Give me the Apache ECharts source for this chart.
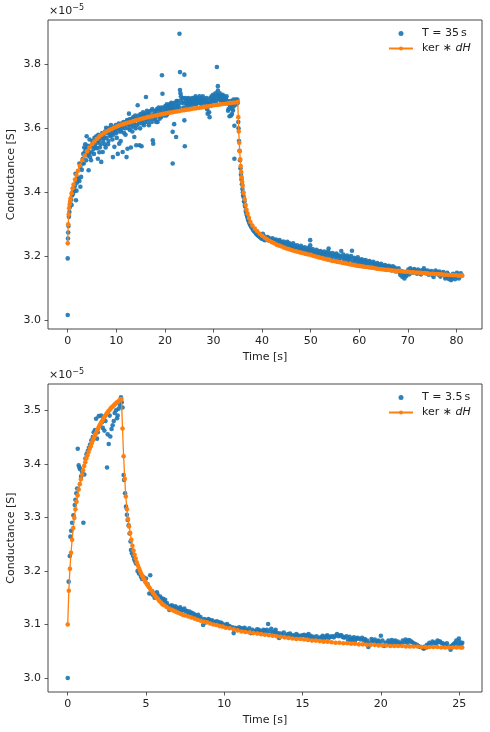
<!DOCTYPE html>
<html>
<head>
<meta charset="utf-8">
<script src="https://cdn.jsdelivr.net/npm/echarts@6/dist/echarts.min.js"></script>
<style>
  html, body { margin: 0; padding: 0; background: #fff; }
  #chart { width: 490px; height: 732px; }
</style>
</head>
<body>
<div id="chart"></div>
<script>
// conductance values are in units of 1e-5 S (offset text "×10^-5")

// ---- top panel: T = 35 s ----
const topMeasuredRise = [
  [0, 3.016], [0, 3.193], [0.05, 3.255], [0.1, 3.274], [0.15, 3.294], [0.25, 3.323], [0.35, 3.338], [0.45, 3.354],
  [0.55, 3.365], [0.7, 3.377], [0.8, 3.36], [0.9, 3.39], [1.0, 3.40], [1.1, 3.395], [1.2, 3.41], [1.4, 3.404],
  [1.5, 3.42], [1.6, 3.458], [1.7, 3.375], [1.8, 3.405], [1.9, 3.43], [2.0, 3.445], [2.2, 3.44], [2.4, 3.49],
  [2.4, 3.435], [2.6, 3.48], [2.6, 3.417], [2.75, 3.448], [2.9, 3.47], [3.0, 3.49],
  [3.2, 3.52], [3.4, 3.54], [3.6, 3.55], [3.8, 3.50], [3.9, 3.575], [4.0, 3.515], [4.2, 3.53], [4.3, 3.469],
  [4.5, 3.565], [4.6, 3.51], [4.8, 3.50], [5.0, 3.545], [5.2, 3.555], [5.4, 3.52], [5.6, 3.548], [5.8, 3.5625],
  [6.0, 3.538], [6.2, 3.505], [6.4, 3.56], [6.6, 3.54], [6.9, 3.495], [7.0, 3.572], [7.2, 3.526], [7.4, 3.58],
  [7.6, 3.55], [7.9, 3.602], [8.0, 3.57], [8.2, 3.585], [8.4, 3.56], [8.6, 3.59], [8.8, 3.575], [9.0, 3.6],
  [9.3, 3.51], [9.4, 3.58], [9.6, 3.542], [9.8, 3.595], [10.0, 3.585], [10.3, 3.52], [10.4, 3.6], [10.6, 3.552],
  [10.8, 3.605], [11.0, 3.59], [11.3, 3.526], [11.4, 3.61], [11.6, 3.585], [11.8, 3.6], [12.0, 3.615], [12.1, 3.51],
  [12.3, 3.625], [12.3, 3.536], [12.5, 3.6], [12.6, 3.646], [12.8, 3.595], [13.0, 3.54], [13.1, 3.62], [13.4, 3.605],
  [13.7, 3.573], [13.8, 3.63], [14.1, 3.547], [14.2, 3.61], [14.4, 3.672], [14.5, 3.625], [14.8, 3.547], [14.9, 3.6],
  [15.1, 3.635], [15.2, 3.544], [15.4, 3.615], [15.6, 3.64], [15.9, 3.62], [16.1, 3.698], [16.2, 3.63], [16.4, 3.645],
  [16.7, 3.61], [17.0, 3.64], [17.3, 3.62], [17.5, 3.5625], [17.6, 3.552], [17.8, 3.645], [18.0, 3.63], [18.3, 3.655],
  [18.5, 3.62], [18.8, 3.645], [19.0, 3.66], [19.2, 3.635], [19.4, 3.766], [19.5, 3.708], [19.7, 3.65], [20.0, 3.66],
  [20.3, 3.64], [20.6, 3.665], [20.9, 3.65], [21.2, 3.67], [21.6, 3.589], [21.6, 3.49], [21.8, 3.66], [21.9, 3.613],
  [22.1, 3.672], [22.3, 3.573], [22.5, 3.66], [22.8, 3.675], [23.0, 3.896], [23.1, 3.776], [23.1, 3.72], [23.2, 3.71],
  [23.3, 3.70], [23.4, 3.69], [23.5, 3.68], [23.8, 3.665], [24.0, 3.768], [24.0, 3.625], [24.1, 3.544], [24.3, 3.685],
  [24.6, 3.67], [24.9, 3.688], [25.2, 3.675], [25.5, 3.69], [25.8, 3.68], [26.1, 3.695], [26.4, 3.675], [26.7, 3.685],
  [27.0, 3.69], [27.3, 3.68], [27.6, 3.695], [27.9, 3.685], [28.2, 3.67], [28.5, 3.69], [28.8, 3.646], [29.0, 3.68],
  [29.2, 3.635], [29.4, 3.695], [29.7, 3.685], [30.0, 3.69], [30.3, 3.70], [30.5, 3.68], [30.7, 3.792], [30.9, 3.732],
  [30.9, 3.718], [31.2, 3.703], [31.4, 3.69], [31.7, 3.70], [32.0, 3.685], [32.3, 3.695], [32.6, 3.69], [32.9, 3.68],
  [33.0, 3.655], [33.3, 3.638], [33.5, 3.685], [33.8, 3.645], [34.0, 3.656], [34.1, 3.69], [34.3, 3.608], [34.3, 3.505],
  [34.5, 3.68], [34.8, 3.685], [35.0, 3.68],
  [3.1, 3.505], [3.3, 3.49], [3.5, 3.525], [3.7, 3.535], [4.1, 3.545], [4.4, 3.52], [4.7, 3.545], [4.9, 3.525],
  [5.1, 3.56], [5.3, 3.535], [5.5, 3.57], [5.7, 3.54], [5.9, 3.575], [6.1, 3.555], [6.3, 3.58], [6.5, 3.525],
  [6.7, 3.57], [6.8, 3.55], [7.1, 3.585], [7.3, 3.56], [7.5, 3.57], [7.7, 3.59], [7.8, 3.54], [8.1, 3.595],
  [8.3, 3.55], [8.5, 3.60], [8.7, 3.58], [8.9, 3.61], [9.1, 3.585], [9.2, 3.565], [9.5, 3.605], [9.7, 3.59],
  [9.9, 3.61], [10.1, 3.57], [10.2, 3.60], [10.5, 3.615], [10.7, 3.59], [10.9, 3.56], [11.1, 3.615], [11.2, 3.60],
  [11.5, 3.62], [11.7, 3.61], [11.9, 3.58], [12.2, 3.625], [12.4, 3.612], [12.7, 3.628], [12.9, 3.61], [13.2, 3.63],
  [13.3, 3.59], [13.5, 3.635], [13.6, 3.615], [13.9, 3.64], [14.0, 3.60], [14.3, 3.63], [14.6, 3.64], [14.7, 3.615],
  [15.0, 3.645], [15.3, 3.625], [15.5, 3.65], [15.7, 3.61], [15.8, 3.645], [16.0, 3.635], [16.3, 3.655], [16.5, 3.62],
  [16.6, 3.65], [16.9, 3.63], [17.1, 3.655], [17.2, 3.64], [17.4, 3.66], [17.7, 3.63], [17.9, 3.655], [18.1, 3.645],
  [18.2, 3.62], [18.4, 3.66], [18.6, 3.64], [18.7, 3.665], [18.9, 3.63], [19.1, 3.655], [19.3, 3.665], [19.6, 3.645],
  [19.8, 3.665], [19.9, 3.64], [20.1, 3.67], [20.2, 3.655], [20.4, 3.675], [20.5, 3.645], [20.7, 3.67], [20.8, 3.66],
  [21.0, 3.675], [21.1, 3.66], [21.3, 3.68], [21.4, 3.655], [21.5, 3.675], [21.7, 3.665], [22.0, 3.68], [22.2, 3.66],
  [22.4, 3.685], [22.6, 3.67], [22.7, 3.685], [22.9, 3.665],
  [23.7, 3.695], [23.9, 3.68], [24.2, 3.695], [24.4, 3.675], [24.5, 3.69], [24.7, 3.68], [24.8, 3.695], [25.0, 3.68],
  [25.1, 3.692], [25.3, 3.685], [25.4, 3.67], [25.6, 3.695], [25.7, 3.685], [25.9, 3.69], [26.0, 3.675], [26.2, 3.685],
  [26.3, 3.70], [26.5, 3.69], [26.6, 3.68], [26.8, 3.695], [26.9, 3.68], [27.1, 3.70], [27.2, 3.685], [27.4, 3.69],
  [27.5, 3.675], [27.7, 3.685], [27.8, 3.70], [28.0, 3.68], [28.1, 3.692], [28.3, 3.685], [28.4, 3.675], [28.6, 3.695],
  [28.7, 3.66], [28.9, 3.68], [29.1, 3.65], [29.3, 3.69], [29.5, 3.675], [29.6, 3.70], [29.8, 3.69], [29.9, 3.705],
  [30.1, 3.685], [30.2, 3.695], [30.4, 3.71], [30.6, 3.69], [30.8, 3.705], [31.0, 3.70], [31.1, 3.69], [31.3, 3.71],
  [31.5, 3.70], [31.6, 3.685], [31.8, 3.695], [31.9, 3.705], [32.1, 3.69], [32.2, 3.70], [32.4, 3.685], [32.5, 3.695],
  [32.7, 3.70], [32.8, 3.685], [33.1, 3.66], [33.2, 3.675], [33.4, 3.665], [33.6, 3.64], [33.7, 3.67], [33.9, 3.66],
  [34.2, 3.67], [34.4, 3.685], [34.6, 3.69], [34.7, 3.675], [34.9, 3.69]
];

const topMeasuredFall = [
  [35.1, 3.62], [35.15, 3.60], [35.25, 3.56], [35.35, 3.53], [35.45, 3.50], [35.55, 3.475], [35.65, 3.455], [35.75, 3.44],
  [35.85, 3.425], [35.95, 3.41], [36.05, 3.40], [36.2, 3.385], [36.35, 3.37], [36.5, 3.355], [36.65, 3.342], [36.8, 3.332],
  [37.0, 3.322], [37.2, 3.312], [37.4, 3.305], [37.6, 3.297], [37.9, 3.29], [38.2, 3.282], [38.5, 3.277], [38.8, 3.27],
  [39.1, 3.266], [39.4, 3.262], [39.7, 3.258], [40.0, 3.255], [40.3, 3.252], [40.6, 3.25], [41.0, 3.255], [41.3, 3.25],
  [41.6, 3.248], [42.0, 3.245], [42.3, 3.248], [42.7, 3.243], [43.0, 3.24], [43.4, 3.244], [43.8, 3.236], [44.2, 3.238],
  [44.6, 3.232], [45.0, 3.235], [45.4, 3.228], [45.8, 3.232], [46.2, 3.225], [46.6, 3.228], [47.0, 3.222], [47.4, 3.225],
  [47.8, 3.218], [48.2, 3.222], [48.6, 3.215], [49.0, 3.22], [49.4, 3.212], [49.8, 3.216], [49.9, 3.25], [49.9, 3.234],
  [50.2, 3.21], [50.6, 3.214], [51.0, 3.206], [51.4, 3.21], [51.8, 3.204], [52.2, 3.208], [52.6, 3.20], [53.0, 3.206],
  [53.4, 3.198], [53.7, 3.224], [53.9, 3.204], [54.3, 3.197], [54.7, 3.202], [55.1, 3.194], [55.5, 3.20], [55.9, 3.19],
  [56.3, 3.216], [56.5, 3.196], [56.9, 3.188], [57.3, 3.194], [57.7, 3.186], [58.1, 3.19], [58.5, 3.217], [58.7, 3.183],
  [59.1, 3.188], [59.5, 3.18], [59.9, 3.185], [60.3, 3.176], [60.7, 3.182], [61.1, 3.174], [61.5, 3.178], [61.9, 3.17],
  [62.3, 3.176], [62.7, 3.168], [63.1, 3.172], [63.5, 3.166], [63.9, 3.17], [64.3, 3.162], [64.7, 3.167], [65.1, 3.16],
  [65.5, 3.164], [65.9, 3.158], [66.3, 3.162], [66.7, 3.155], [67.1, 3.158], [67.5, 3.152], [67.9, 3.156], [68.3, 3.148],
  [68.7, 3.153], [69.1, 3.144], [69.5, 3.14], [69.9, 3.15], [70.3, 3.143], [70.7, 3.155], [71.1, 3.148], [71.5, 3.152],
  [71.9, 3.145], [72.3, 3.15], [72.7, 3.143], [73.1, 3.148], [73.5, 3.155], [73.9, 3.146], [74.3, 3.142], [74.7, 3.148],
  [75.1, 3.14], [75.5, 3.145], [75.9, 3.15], [76.3, 3.142], [76.7, 3.136], [77.1, 3.145], [77.5, 3.14], [77.9, 3.133],
  [78.3, 3.143], [78.5, 3.128], [78.7, 3.138], [79.1, 3.13], [79.5, 3.14], [79.9, 3.135], [80.3, 3.142], [80.7, 3.136],
  [81.1, 3.14],
  [36.1, 3.39], [36.3, 3.372], [36.45, 3.36], [36.7, 3.338], [36.9, 3.327], [37.1, 3.315], [37.3, 3.307], [37.5, 3.30],
  [37.75, 3.292], [38.05, 3.285], [38.35, 3.278], [38.65, 3.273], [38.95, 3.268], [39.25, 3.263], [39.55, 3.26], [39.85, 3.255],
  [40.15, 3.27], [40.45, 3.262], [40.8, 3.258], [41.15, 3.26], [41.45, 3.256], [41.8, 3.252], [42.15, 3.256], [42.5, 3.25],
  [42.85, 3.252], [43.2, 3.248], [43.6, 3.25], [44.0, 3.244], [44.4, 3.246], [44.8, 3.242], [45.2, 3.245], [45.6, 3.24],
  [46.0, 3.236], [46.4, 3.24], [46.8, 3.232], [47.2, 3.234], [47.6, 3.228], [48.0, 3.232], [48.4, 3.226], [48.8, 3.228],
  [49.2, 3.222], [49.6, 3.226], [50.0, 3.22], [50.4, 3.222], [50.8, 3.216], [51.2, 3.22], [51.6, 3.214], [52.0, 3.216],
  [52.4, 3.212], [52.8, 3.214], [53.2, 3.21], [53.6, 3.215], [54.0, 3.208], [54.5, 3.21], [54.9, 3.205], [55.3, 3.208],
  [55.7, 3.203], [56.1, 3.20], [56.7, 3.205], [57.1, 3.198], [57.5, 3.202], [57.9, 3.196], [58.3, 3.20], [58.9, 3.195],
  [59.3, 3.192], [59.7, 3.196], [60.1, 3.188], [60.5, 3.19], [60.9, 3.186], [61.3, 3.188], [61.7, 3.182], [62.1, 3.185],
  [62.5, 3.18], [62.9, 3.182], [63.3, 3.176], [63.7, 3.178], [64.1, 3.174], [64.5, 3.176], [64.9, 3.17], [65.3, 3.172],
  [65.7, 3.168], [66.1, 3.17], [66.5, 3.166], [66.9, 3.168], [67.3, 3.164], [67.7, 3.16], [68.1, 3.162], [68.5, 3.14],
  [68.9, 3.135], [69.3, 3.13], [69.7, 3.138], [70.1, 3.158], [70.5, 3.162], [70.9, 3.156], [71.3, 3.16], [71.7, 3.155],
  [72.1, 3.158], [72.5, 3.152], [72.9, 3.156], [73.3, 3.162], [73.7, 3.152], [74.1, 3.155], [74.5, 3.15], [74.9, 3.153],
  [75.3, 3.135], [75.7, 3.155], [76.1, 3.148], [76.5, 3.152], [76.9, 3.145], [77.3, 3.15], [77.7, 3.13], [78.1, 3.148],
  [78.9, 3.125], [79.3, 3.145], [79.7, 3.128], [80.1, 3.148], [80.5, 3.13], [80.9, 3.146]
];

const topKernel = [
  [0, 3.24], [0.1, 3.30], [0.2, 3.33], [0.3, 3.35], [0.4, 3.362], [0.5, 3.372], [0.6, 3.381], [0.8, 3.397],
  [1.0, 3.412], [1.2, 3.424], [1.5, 3.44], [1.8, 3.454], [2.1, 3.467], [2.5, 3.483], [3.0, 3.50], [3.5, 3.515],
  [4.0, 3.528], [4.5, 3.54], [5.0, 3.55], [5.5, 3.559], [6.0, 3.567], [6.5, 3.574], [7.0, 3.58], [7.5, 3.585],
  [8.0, 3.59], [8.5, 3.594], [9.0, 3.598], [9.5, 3.602], [10.0, 3.605], [10.5, 3.608], [11.0, 3.611], [11.5, 3.613],
  [12.0, 3.616], [12.5, 3.618], [13.0, 3.62], [13.5, 3.623], [14.0, 3.625], [14.5, 3.627], [15.0, 3.629], [15.5, 3.631],
  [16.0, 3.633], [16.5, 3.635], [17.0, 3.637], [17.5, 3.638], [18.0, 3.64], [18.5, 3.641], [19.0, 3.643], [19.5, 3.645],
  [20.0, 3.646], [20.5, 3.648], [21.0, 3.649], [21.5, 3.65], [22.0, 3.652], [22.5, 3.653], [23.0, 3.654], [23.5, 3.656],
  [24.0, 3.657], [24.5, 3.658], [25.0, 3.659], [25.5, 3.661], [26.0, 3.662], [26.5, 3.663], [27.0, 3.664], [27.5, 3.665],
  [28.0, 3.667], [28.5, 3.668], [29.0, 3.669], [29.5, 3.67], [30.0, 3.672], [30.5, 3.673], [31.0, 3.674], [31.5, 3.675],
  [32.0, 3.676], [32.5, 3.677], [33.0, 3.678], [33.5, 3.679], [34.0, 3.68], [34.5, 3.681], [35.0, 3.683],
  [35.1, 3.635], [35.2, 3.59], [35.3, 3.555], [35.4, 3.528], [35.5, 3.503], [35.6, 3.482], [35.7, 3.463], [35.8, 3.447],
  [35.9, 3.433], [36.0, 3.42], [36.2, 3.398], [36.4, 3.378], [36.6, 3.36], [36.8, 3.345], [37.0, 3.333], [37.3, 3.319],
  [37.6, 3.307], [38.0, 3.296], [38.5, 3.286], [39.0, 3.278], [39.5, 3.27], [40.0, 3.264], [40.5, 3.258], [41.0, 3.253],
  [41.5, 3.248], [42.0, 3.244], [42.5, 3.24], [43.0, 3.236], [43.5, 3.233], [44.0, 3.23], [44.5, 3.227], [45.0, 3.224],
  [45.5, 3.222], [46.0, 3.219], [46.5, 3.217], [47.0, 3.215], [47.5, 3.213], [48.0, 3.211], [48.5, 3.209], [49.0, 3.207],
  [49.5, 3.205], [50.0, 3.204], [50.5, 3.201], [51.0, 3.199], [51.5, 3.197], [52.0, 3.195], [52.5, 3.193], [53.0, 3.191],
  [53.5, 3.189], [54.0, 3.187], [54.5, 3.185], [55.0, 3.184], [55.5, 3.182], [56.0, 3.181], [56.5, 3.179], [57.0, 3.178],
  [57.5, 3.176], [58.0, 3.175], [58.5, 3.173], [59.0, 3.172], [59.5, 3.17], [60.0, 3.169], [60.5, 3.168], [61.0, 3.167],
  [61.5, 3.166], [62.0, 3.165], [62.5, 3.164], [63.0, 3.163], [63.5, 3.161], [64.0, 3.16], [64.5, 3.159], [65.0, 3.158],
  [65.5, 3.157], [66.0, 3.157], [66.5, 3.156], [67.0, 3.155], [67.5, 3.154], [68.0, 3.154], [68.5, 3.153], [69.0, 3.152],
  [69.5, 3.151], [70.0, 3.151], [70.5, 3.15], [71.0, 3.15], [71.5, 3.149], [72.0, 3.149], [72.5, 3.148], [73.0, 3.147],
  [73.5, 3.147], [74.0, 3.146], [74.5, 3.145], [75.0, 3.145], [75.5, 3.144], [76.0, 3.144], [76.5, 3.143], [77.0, 3.143],
  [77.5, 3.142], [78.0, 3.142], [78.5, 3.141], [79.0, 3.141], [79.5, 3.14], [80.0, 3.14], [80.5, 3.139], [81.0, 3.139],
  [81.2, 3.139]
];

// ---- bottom panel: T = 3.5 s ----
const bottomMeasuredRise = [
  [0, 3.0], [0.06, 3.18], [0.13, 3.228], [0.17, 3.264], [0.22, 3.275], [0.28, 3.29], [0.36, 3.304], [0.45, 3.323],
  [0.49, 3.333], [0.55, 3.345], [0.6, 3.354], [0.64, 3.428], [0.7, 3.397], [0.75, 3.393], [0.79, 3.39], [0.85, 3.376],
  [0.92, 3.385], [1.0, 3.29], [1.06, 3.38], [1.13, 3.41], [1.2, 3.418], [1.28, 3.424], [1.35, 3.43], [1.43, 3.436],
  [1.51, 3.444], [1.6, 3.45], [1.66, 3.459], [1.74, 3.463], [1.81, 3.484], [1.87, 3.447], [1.92, 3.459], [1.98, 3.489],
  [2.06, 3.472], [2.13, 3.49], [2.2, 3.478], [2.24, 3.467], [2.3, 3.485], [2.34, 3.462], [2.41, 3.48], [2.51, 3.393],
  [2.55, 3.455], [2.62, 3.437], [2.68, 3.49], [2.72, 3.451], [2.8, 3.465], [2.87, 3.472], [2.94, 3.48], [3.0, 3.495],
  [3.09, 3.50], [3.15, 3.485], [3.19, 3.49], [3.25, 3.503], [3.34, 3.51], [3.4, 3.524], [3.45, 3.515], [3.5, 3.505]
];

const bottomMeasuredFall = [
  [3.57, 3.379], [3.6, 3.37], [3.66, 3.345], [3.72, 3.32], [3.78, 3.305], [3.83, 3.295], [3.89, 3.285], [3.95, 3.27],
  [4.01, 3.255], [4.04, 3.239], [4.1, 3.233], [4.18, 3.228], [4.25, 3.222], [4.3, 3.218], [4.36, 3.214], [4.46, 3.20],
  [4.55, 3.195], [4.62, 3.197], [4.68, 3.189], [4.75, 3.185], [4.85, 3.188], [5.0, 3.186], [5.1, 3.175], [5.21, 3.158],
  [5.27, 3.192], [5.35, 3.158], [5.45, 3.155], [5.55, 3.15], [5.64, 3.152], [5.75, 3.155], [5.85, 3.15], [5.96, 3.149],
  [6.05, 3.145], [6.17, 3.143], [6.28, 3.138], [6.38, 3.134], [6.49, 3.127], [6.6, 3.13], [6.7, 3.133], [6.82, 3.128],
  [6.95, 3.131], [7.05, 3.126], [7.12, 3.13], [7.25, 3.124], [7.38, 3.127], [7.55, 3.124], [7.7, 3.12], [7.85, 3.121],
  [7.98, 3.118], [8.1, 3.116], [8.25, 3.114], [8.4, 3.112], [8.55, 3.109], [8.65, 3.099], [8.8, 3.104], [8.92, 3.107],
  [9.04, 3.109], [9.15, 3.106], [9.3, 3.104], [9.46, 3.104], [9.6, 3.101], [9.75, 3.102], [9.9, 3.099], [10.1, 3.099],
  [10.25, 3.097], [10.4, 3.094], [10.6, 3.084], [10.75, 3.092], [10.95, 3.095], [11.1, 3.093], [11.3, 3.094], [11.5, 3.088],
  [11.7, 3.084], [11.8, 3.09], [12.0, 3.088], [12.2, 3.09], [12.4, 3.087], [12.5, 3.09], [12.65, 3.085], [12.8, 3.101],
  [13.0, 3.092], [13.2, 3.087], [13.35, 3.082], [13.5, 3.075], [13.7, 3.08], [13.9, 3.078], [14.1, 3.082], [14.3, 3.079],
  [14.5, 3.078], [14.7, 3.08], [14.9, 3.079], [15.1, 3.081], [15.3, 3.08], [15.45, 3.077], [15.6, 3.075], [15.8, 3.072],
  [16.0, 3.074], [16.2, 3.076], [16.35, 3.073], [16.5, 3.078], [16.65, 3.074], [16.8, 3.077], [17.0, 3.076], [17.2, 3.082],
  [17.4, 3.08], [17.55, 3.077], [17.7, 3.076], [17.9, 3.071], [18.05, 3.073], [18.2, 3.074], [18.35, 3.07], [18.5, 3.075],
  [18.7, 3.072], [18.9, 3.071], [19.05, 3.068], [19.2, 3.058], [19.4, 3.073], [19.55, 3.069], [19.7, 3.067], [19.85, 3.07],
  [20.0, 3.079], [20.2, 3.06], [20.4, 3.066], [20.55, 3.064], [20.7, 3.071], [20.85, 3.068], [21.0, 3.066], [21.15, 3.063],
  [21.3, 3.064], [21.5, 3.067], [21.65, 3.069], [21.8, 3.071], [22.0, 3.067], [22.2, 3.063], [22.4, 3.06], [22.6, 3.058],
  [22.75, 3.055], [22.9, 3.057], [23.0, 3.06], [23.2, 3.063], [23.4, 3.066], [23.55, 3.064], [23.7, 3.068], [23.85, 3.066],
  [24.0, 3.064], [24.15, 3.061], [24.3, 3.059], [24.45, 3.053], [24.6, 3.062], [24.75, 3.066], [24.9, 3.063], [24.98, 3.074],
  [25.1, 3.062], [25.2, 3.066],
  [5.4, 3.162], [5.6, 3.158], [5.7, 3.16], [5.9, 3.152], [6.1, 3.148], [6.22, 3.146], [6.33, 3.14], [6.44, 3.135],
  [6.55, 3.134], [6.65, 3.136], [6.76, 3.132], [6.88, 3.134], [7.0, 3.13], [7.18, 3.132], [7.3, 3.128], [7.45, 3.13],
  [7.62, 3.125], [7.78, 3.124], [7.92, 3.122], [8.05, 3.12], [8.18, 3.117], [8.33, 3.118], [8.48, 3.114], [8.72, 3.11],
  [8.85, 3.108], [8.98, 3.11], [9.1, 3.107], [9.22, 3.108], [9.38, 3.105], [9.53, 3.106], [9.68, 3.104], [9.82, 3.103],
  [9.96, 3.10], [10.18, 3.101], [10.33, 3.097], [10.5, 3.095], [10.68, 3.094], [10.85, 3.092], [11.02, 3.09], [11.2, 3.092],
  [11.4, 3.09], [11.6, 3.093], [11.9, 3.087], [12.1, 3.091], [12.3, 3.088], [12.58, 3.089], [12.72, 3.09], [12.9, 3.087],
  [13.1, 3.085], [13.28, 3.09], [13.42, 3.084], [13.6, 3.083], [13.8, 3.085], [14.0, 3.081], [14.2, 3.083], [14.4, 3.08],
  [14.6, 3.082], [14.8, 3.078], [15.0, 3.08], [15.2, 3.078], [15.38, 3.082], [15.52, 3.079], [15.7, 3.077], [15.9, 3.078],
  [16.1, 3.075], [16.28, 3.079], [16.42, 3.076], [16.58, 3.08], [16.72, 3.077], [16.9, 3.078], [17.1, 3.079], [17.3, 3.078],
  [17.48, 3.08], [17.62, 3.076], [17.8, 3.078], [18.0, 3.077], [18.12, 3.071], [18.28, 3.076], [18.42, 3.073], [18.6, 3.074],
  [18.8, 3.075], [18.98, 3.073], [19.12, 3.07], [19.3, 3.066], [19.48, 3.07], [19.62, 3.072], [19.78, 3.068], [19.92, 3.066],
  [20.1, 3.07], [20.3, 3.066], [20.48, 3.07], [20.62, 3.068], [20.78, 3.065], [20.92, 3.07], [21.08, 3.068], [21.22, 3.066],
  [21.4, 3.07], [21.58, 3.072], [21.72, 3.066], [21.9, 3.069], [22.1, 3.065], [22.3, 3.062], [22.5, 3.058], [22.68, 3.056],
  [22.82, 3.059], [22.95, 3.062], [23.1, 3.066], [23.3, 3.068], [23.48, 3.066], [23.62, 3.07], [23.78, 3.068], [23.92, 3.065],
  [24.08, 3.062], [24.22, 3.065], [24.38, 3.058], [24.52, 3.06], [24.68, 3.064], [24.82, 3.07], [25.02, 3.068], [25.15, 3.064]
];

const bottomKernel = [
  [0, 3.10], [0.07, 3.163], [0.14, 3.204], [0.21, 3.234], [0.28, 3.258], [0.35, 3.28], [0.42, 3.299], [0.49, 3.315],
  [0.56, 3.329], [0.63, 3.341], [0.7, 3.352], [0.77, 3.362], [0.84, 3.371], [0.91, 3.38], [0.98, 3.388], [1.05, 3.396],
  [1.12, 3.403], [1.19, 3.41], [1.26, 3.416], [1.33, 3.422], [1.4, 3.428], [1.47, 3.433], [1.54, 3.439], [1.61, 3.444],
  [1.68, 3.449], [1.75, 3.454], [1.82, 3.458], [1.89, 3.463], [1.96, 3.467], [2.03, 3.471], [2.1, 3.475], [2.17, 3.479],
  [2.24, 3.482], [2.31, 3.486], [2.38, 3.489], [2.45, 3.492], [2.52, 3.495], [2.59, 3.498], [2.66, 3.50], [2.73, 3.503],
  [2.8, 3.505], [2.87, 3.507], [2.94, 3.509], [3.01, 3.511], [3.08, 3.513], [3.15, 3.515], [3.22, 3.516], [3.29, 3.518],
  [3.36, 3.52], [3.43, 3.521], [3.5, 3.466], [3.57, 3.414], [3.64, 3.372], [3.71, 3.339], [3.78, 3.315], [3.85, 3.297],
  [3.92, 3.283], [3.99, 3.271], [4.06, 3.258], [4.13, 3.247], [4.2, 3.238], [4.27, 3.23], [4.34, 3.223], [4.41, 3.216],
  [4.48, 3.21], [4.55, 3.205], [4.62, 3.20], [4.69, 3.195], [4.76, 3.191], [4.83, 3.187], [4.9, 3.183], [4.97, 3.179],
  [5.04, 3.176], [5.11, 3.173], [5.18, 3.17], [5.25, 3.167], [5.35, 3.163], [5.45, 3.159], [5.55, 3.155], [5.65, 3.151],
  [5.75, 3.148], [5.85, 3.144], [5.95, 3.141], [6.05, 3.138], [6.15, 3.136], [6.3, 3.133], [6.45, 3.13], [6.6, 3.128],
  [6.75, 3.126], [6.9, 3.124], [7.05, 3.122], [7.2, 3.12], [7.35, 3.118], [7.5, 3.117], [7.7, 3.115], [7.9, 3.113],
  [8.1, 3.111], [8.3, 3.109], [8.5, 3.107], [8.7, 3.105], [8.9, 3.104], [9.1, 3.102], [9.3, 3.10], [9.5, 3.099],
  [9.7, 3.097], [9.9, 3.096], [10.1, 3.094], [10.35, 3.093], [10.6, 3.091], [10.85, 3.089], [11.1, 3.087], [11.35, 3.086],
  [11.6, 3.085], [11.85, 3.084], [12.1, 3.083], [12.35, 3.082], [12.6, 3.081], [12.85, 3.08], [13.1, 3.079], [13.35, 3.078],
  [13.6, 3.077], [13.85, 3.076], [14.1, 3.075], [14.35, 3.074], [14.6, 3.073], [14.85, 3.073], [15.1, 3.072], [15.35, 3.071],
  [15.6, 3.07], [15.85, 3.07], [16.1, 3.069], [16.35, 3.068], [16.6, 3.068], [16.85, 3.067], [17.1, 3.066], [17.35, 3.066],
  [17.6, 3.065], [17.85, 3.065], [18.1, 3.064], [18.35, 3.064], [18.6, 3.063], [18.85, 3.063], [19.1, 3.062], [19.35, 3.062],
  [19.6, 3.062], [19.85, 3.061], [20.1, 3.061], [20.35, 3.061], [20.6, 3.06], [20.85, 3.06], [21.1, 3.06], [21.35, 3.06],
  [21.6, 3.059], [21.85, 3.059], [22.1, 3.059], [22.35, 3.059], [22.6, 3.058], [22.85, 3.058], [23.1, 3.058], [23.35, 3.058],
  [23.6, 3.058], [23.85, 3.057], [24.1, 3.057], [24.35, 3.057], [24.6, 3.057], [24.85, 3.057], [25.1, 3.057], [25.2, 3.057]
];

// tick labels
const topXTicks = [0, 10, 20, 30, 40, 50, 60, 70, 80];
const topYTicks = [3.0, 3.2, 3.4, 3.6, 3.8];
const bottomXTicks = [0, 5, 10, 15, 20, 25];
const bottomYTicks = [3.0, 3.1, 3.2, 3.3, 3.4, 3.5];

const topNames = ['T = 35\u2009s', 'kerTop'];
const bottomNames = ['T = 3.5\u2009s', 'kerBottom'];

const FONT = 'DejaVu Sans';
const TEXT = '#222';
const BLUE = '#1f77b4';
const ORANGE = '#ff7f0e';

function xAxisFor(gridIndex, min, max, ticks) {
  return {
    type: 'value', gridIndex, min, max,
    name: 'Time [s]', nameLocation: 'middle', nameGap: 23,
    nameTextStyle: { fontFamily: FONT, fontSize: 11, color: TEXT },
    axisLine: { show: false, onZero: false },
    axisTick: { show: true, length: 3.5, customValues: ticks, lineStyle: { color: '#333', width: 0.8 } },
    axisLabel: { customValues: ticks, fontFamily: FONT, fontSize: 11, color: TEXT, margin: 7, formatter: v => String(v) },
    splitLine: { show: false }
  };
}

function yAxisFor(gridIndex, min, max, ticks) {
  return {
    type: 'value', gridIndex, min, max,
    name: 'Conductance [S]', nameLocation: 'middle', nameGap: 31, nameMoveOverlap: false,
    nameTextStyle: { fontFamily: FONT, fontSize: 11, color: TEXT },
    axisLine: { show: false, onZero: false },
    axisTick: { show: true, length: 3.5, customValues: ticks, lineStyle: { color: '#333', width: 0.8 } },
    axisLabel: { customValues: ticks, fontFamily: FONT, fontSize: 11, color: TEXT, margin: 7, formatter: v => v.toFixed(1) },
    splitLine: { show: false }
  };
}

function legendFor(names, top) {
  return {
    data: names, orient: 'vertical', left: 383, top: top, align: 'left',
    itemWidth: 24, itemHeight: 5, itemGap: 4,
    selectedMode: false,
    itemStyle: { borderWidth: 0 },
    textStyle: {
      fontFamily: FONT, fontSize: 11, color: TEXT, padding: [0, 0, 0, 4],
      rich: { i: { fontFamily: FONT, fontSize: 11, fontStyle: 'italic', color: TEXT } }
    },
    formatter: name => name.indexOf('ker') === 0 ? 'ker \u2217 {i|dH}' : name
  };
}

function measuredSeries(name, axisIndex, data) {
  return {
    name, type: 'scatter', xAxisIndex: axisIndex, yAxisIndex: axisIndex,
    symbol: 'circle', symbolSize: 4.6, data,
    itemStyle: { color: BLUE, opacity: 0.92, borderWidth: 0 },
    emphasis: { disabled: true }, z: 2
  };
}

function kernelSeries(name, axisIndex, data) {
  return {
    name, type: 'line', xAxisIndex: axisIndex, yAxisIndex: axisIndex,
    symbol: 'circle', symbolSize: 4.6, showSymbol: true, showAllSymbol: true, data,
    itemStyle: { color: ORANGE, borderWidth: 0 },
    lineStyle: { color: ORANGE, width: 1.3 },
    emphasis: { disabled: true }, z: 3
  };
}

function offsetText(top) {
  return {
    type: 'text', left: 49, top: top,
    style: {
      text: '{a|\u00d710}{s|\u22125}',
      rich: {
        a: { fontFamily: FONT, fontSize: 11, fill: TEXT },
        s: { fontFamily: FONT, fontSize: 8, fill: TEXT, padding: [0, 0, 7, 0] }
      }
    }
  };
}

const chart = echarts.init(document.getElementById('chart'), null, { renderer: 'canvas' });
const options = {
  animation: false,
  backgroundColor: '#fff',
  grid: [
    { left: 48, right: 8, top: 20, height: 309, show: true, borderColor: '#333', borderWidth: 0.9, backgroundColor: 'transparent', outerBoundsMode: 'none', containLabel: false },
    { left: 48, right: 8, top: 384, height: 308, show: true, borderColor: '#333', borderWidth: 0.9, backgroundColor: 'transparent', outerBoundsMode: 'none', containLabel: false }
  ],
  xAxis: [
    xAxisFor(0, -4.06, 85.26, topXTicks),
    xAxisFor(1, -1.26, 26.46, bottomXTicks)
  ],
  yAxis: [
    yAxisFor(0, 2.972, 3.939, topYTicks),
    yAxisFor(1, 2.974, 3.549, bottomYTicks)
  ],
  legend: [legendFor(topNames, 23), legendFor(bottomNames, 387)],
  graphic: [offsetText(4), offsetText(368)],
  series: [
    measuredSeries(topNames[0], 0, topMeasuredRise.concat(topMeasuredFall)),
    kernelSeries(topNames[1], 0, topKernel),
    measuredSeries(bottomNames[0], 1, bottomMeasuredRise.concat(bottomMeasuredFall)),
    kernelSeries(bottomNames[1], 1, bottomKernel)
  ]
};
chart.setOption(options);
</script>
</body>
</html>
